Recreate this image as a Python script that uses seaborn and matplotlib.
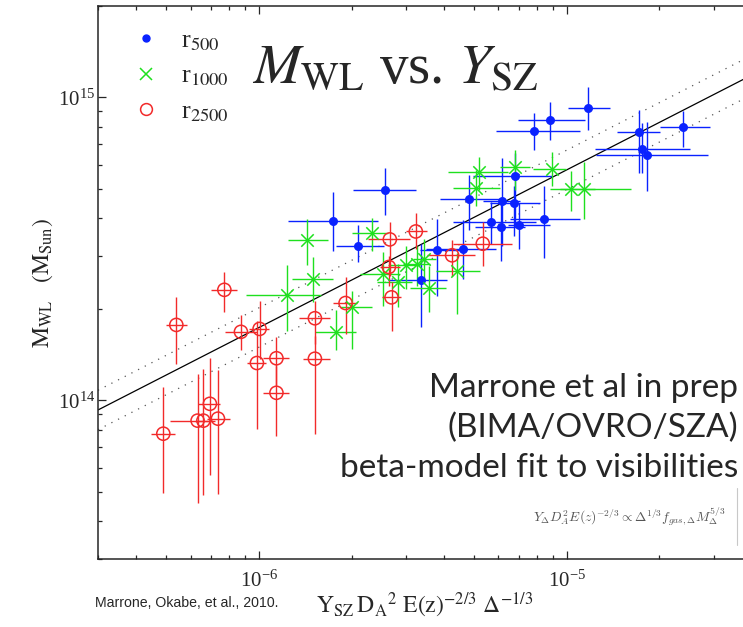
import numpy as np
import pandas
import seaborn as sns
import matplotlib.pyplot as plt
import matplotlib.ticker as ticker
from matplotlib.lines import Line2D

# Y_SZ D_A^2 E(z)^-2/3 Delta^-1/3 in units of 1e-6, M_WL in units of 1e14 M_sun
# error bars are given in dex (lower, upper)

# r500 (blue dots)
ysz_500 = [1.735, 2.104, 2.571, 3.350, 3.793, 4.606, 4.817, 5.694, 6.106, 6.165, 6.745,
           6.805, 6.985, 7.831, 8.439, 8.841, 11.75, 17.22, 17.59, 18.23, 23.88]
mwl_500 = [3.921, 3.223, 4.944, 2.499, 3.127, 3.151, 4.619, 3.883, 3.734, 4.560, 4.468,
           5.495, 3.796, 7.719, 3.981, 8.405, 9.183, 7.696, 6.753, 6.441, 7.956]
ysz_500_elo = [0.144, 0.073, 0.104, 0.106, 0.056, 0.119, 0.095, 0.125, 0.084, 0.062, 0.079,
               0.138, 0.035, 0.122, 0.111, 0.105, 0.066, 0.073, 0.154, 0.167, 0.076]
ysz_500_ehi = [0.148, 0.083, 0.099, 0.085, 0.084, 0.108, 0.100, 0.146, 0.078, 0.057, 0.083,
               0.119, 0.100, 0.148, 0.116, 0.112, 0.070, 0.068, 0.156, 0.198, 0.088]
mwl_500_elo = [0.101, 0.053, 0.081, 0.155, 0.150, 0.098, 0.101, 0.074, 0.113, 0.148, 0.108,
               0.165, 0.081, 0.061, 0.129, 0.066, 0.071, 0.136, 0.080, 0.119, 0.064]
mwl_500_ehi = [0.093, 0.072, 0.072, 0.117, 0.102, 0.098, 0.080, 0.067, 0.080, 0.141, 0.056,
               0.075, 0.072, 0.059, 0.106, 0.060, 0.071, 0.073, 0.084, 0.110, 0.054]

# r1000 (green crosses)
ysz_1000 = [1.230, 1.429, 1.497, 1.778, 2.009, 2.322, 2.533, 2.834, 3.001, 3.266, 3.441,
            3.564, 4.411, 5.091, 5.179, 6.805, 8.960, 10.36, 11.36]
mwl_1000 = [2.226, 3.373, 2.512, 1.677, 2.029, 3.555, 2.609, 2.461, 2.792, 2.828, 2.937,
            2.352, 2.675, 5.020, 5.689, 5.872, 5.794, 4.974, 4.982]
ysz_1000_elo = [0.131, 0.061, 0.067, 0.068, 0.040, 0.065, 0.076, 0.070, 0.057, 0.045, 0.036,
                0.062, 0.068, 0.076, 0.100, 0.050, 0.062, 0.070, 0.078]
ysz_1000_ehi = [0.113, 0.070, 0.066, 0.067, 0.063, 0.053, 0.054, 0.044, 0.045, 0.041, 0.040,
                0.057, 0.073, 0.076, 0.095, 0.047, 0.047, 0.076, 0.155]
mwl_1000_elo = [0.120, 0.082, 0.075, 0.057, 0.137, 0.057, 0.104, 0.083, 0.079, 0.073, 0.068,
                0.081, 0.142, 0.060, 0.060, 0.074, 0.057, 0.073, 0.100]
mwl_1000_ehi = [0.100, 0.070, 0.072, 0.074, 0.054, 0.052, 0.072, 0.058, 0.063, 0.058, 0.063,
                0.072, 0.060, 0.060, 0.049, 0.057, 0.058, 0.061, 0.090]

# r2500 (red open circles)
ysz_2500 = [0.489, 0.539, 0.632, 0.660, 0.693, 0.736, 0.772, 0.874, 1.005, 0.985, 1.140,
            1.140, 1.520, 1.520, 1.912, 2.644, 2.663, 2.697, 3.234, 4.243, 5.338]
mwl_2500 = [0.777, 1.775, 0.858, 0.858, 0.975, 0.871, 2.317, 1.684, 1.722, 1.329, 1.378,
            1.060, 1.867, 1.373, 2.096, 2.756, 3.398, 2.188, 3.609, 3.011, 3.289]
ysz_2500_elo = [0.041, 0.034, 0.090, 0.027, 0.039, 0.037, 0.043, 0.052, 0.035, 0.033, 0.044,
                0.044, 0.052, 0.039, 0.041, 0.029, 0.071, 0.032, 0.032, 0.083, 0.096]
ysz_2500_ehi = [0.038, 0.034, 0.033, 0.038, 0.032, 0.039, 0.041, 0.051, 0.031, 0.031, 0.040,
                0.040, 0.049, 0.049, 0.036, 0.036, 0.065, 0.032, 0.035, 0.074, 0.096]
mwl_2500_elo = [0.196, 0.128, 0.271, 0.244, 0.236, 0.248, 0.073, 0.061, 0.098, 0.219, 0.089,
                0.142, 0.084, 0.248, 0.102, 0.062, 0.121, 0.110, 0.059, 0.068, 0.073]
mwl_2500_ehi = [0.154, 0.093, 0.155, 0.171, 0.151, 0.162, 0.058, 0.056, 0.091, 0.140, 0.070,
                0.090, 0.058, 0.076, 0.085, 0.036, 0.056, 0.050, 0.062, 0.052, 0.070]

# power-law fit: M = fit_norm * (Y / 1e-6)^fit_slope, with +-fit_scatter dex
fit_norm = 1.74
fit_slope = 0.52
fit_scatter = 0.065

sns.set_style('ticks')
plt.rcParams['font.family'] = 'serif'
plt.rcParams['font.serif'] = ['Liberation Serif', 'DejaVu Serif']
plt.rcParams['mathtext.fontset'] = 'stix'

fig = plt.figure(figsize=(7.43, 6.27), dpi=100)
ax = fig.add_axes([98 / 743, 1 - 559 / 627, 654 / 743, 553 / 627])
ax.set_xscale('log')
ax.set_yscale('log')
ax.set_xlim(3e-7, 4e-5)
ax.set_ylim(3e13, 2e15)

# fit line and scatter
fit_x = np.geomspace(3e-7, 4e-5, 50)
fit_y = fit_norm * 1e14 * (fit_x / 1e-6) ** fit_slope
ax.plot(fit_x, fit_y, color='black', lw=0.9, zorder=1)
ax.plot(fit_x, fit_y * 10 ** fit_scatter, color='#555555', lw=0.9, ls=(0, (1, 5)), zorder=1)
ax.plot(fit_x, fit_y * 10 ** -fit_scatter, color='#555555', lw=0.9, ls=(0, (1, 5)), zorder=1)

series = [
    ('r500', ysz_500, mwl_500, ysz_500_elo, ysz_500_ehi, mwl_500_elo, mwl_500_ehi, '#0a22ff'),
    ('r1000', ysz_1000, mwl_1000, ysz_1000_elo, ysz_1000_ehi, mwl_1000_elo, mwl_1000_ehi, '#1ee01e'),
    ('r2500', ysz_2500, mwl_2500, ysz_2500_elo, ysz_2500_ehi, mwl_2500_elo, mwl_2500_ehi, '#f22a2a'),
]

for name, ysz, mwl, xlo, xhi, mlo, mhi, col in series:
    df = pandas.DataFrame({'Y': np.array(ysz) * 1e-6, 'M': np.array(mwl) * 1e14})
    xerr = [df.Y * (1 - 10 ** -np.array(xlo)), df.Y * (10 ** np.array(xhi) - 1)]
    yerr = [df.M * (1 - 10 ** -np.array(mlo)), df.M * (10 ** np.array(mhi) - 1)]
    ax.errorbar(df.Y, df.M, xerr=xerr, yerr=yerr, fmt='none', ecolor=col,
                elinewidth=1.0, capsize=0, zorder=2)
    if name == 'r500':
        sns.scatterplot(data=df, x='Y', y='M', ax=ax, marker='o', s=42, color=col,
                        edgecolor=col, linewidth=0, zorder=3)
    elif name == 'r1000':
        sns.scatterplot(data=df, x='Y', y='M', ax=ax, marker='x', s=80, color=col,
                        linewidth=1.1, zorder=3)
    else:
        sns.scatterplot(data=df, x='Y', y='M', ax=ax, marker='o', s=90, facecolors='none',
                        edgecolor=col, linewidth=1.1, zorder=3)

handles = [
    Line2D([], [], ls='none', marker='o', ms=5, color='#0a22ff', mec='#0a22ff'),
    Line2D([], [], ls='none', marker='x', ms=8, mew=1.1, color='#1ee01e'),
    Line2D([], [], ls='none', marker='o', ms=8.5, mfc='none', mew=1.1, mec='#f22a2a'),
]
ax.legend(handles, [r'r$_{500}$', r'r$_{1000}$', r'r$_{2500}$'], loc='upper left',
          bbox_to_anchor=(0.054, 0.958), frameon=False, fontsize=19, borderpad=0,
          borderaxespad=0, handlelength=0.95, handletextpad=0.85, labelspacing=0.42)

ax.set_xlabel(r'$\mathrm{Y_{SZ}\,D_A{}^{2}\ E(z)^{-2/3}\ \Delta^{-1/3}}$', fontsize=17, labelpad=0)
ax.set_ylabel(r'$\mathrm{M_{WL}\ \ \ (M_{Sun})}$', fontsize=17, labelpad=2)

ax.tick_params(which='both', direction='in', top=True, right=True, labelsize=15, width=0.9)
ax.tick_params(which='major', length=6)
ax.tick_params(which='minor', length=3)
ax.tick_params(axis='x', pad=8)
ax.tick_params(axis='y', pad=2)
ax.xaxis.set_minor_formatter(ticker.NullFormatter())
ax.yaxis.set_minor_formatter(ticker.NullFormatter())
for sp in ax.spines.values():
    sp.set_linewidth(1.1)

fig.text(252 / 743, 1 - 83 / 627, r'$M_{\rm WL}$ vs. $Y_{\rm SZ}$', fontsize=41, va='baseline')

fig.text(738 / 743, 1 - 397 / 627, 'Marrone et al in prep', ha='right', va='baseline',
         family='Lato', fontsize=24)
fig.text(738 / 743, 1 - 437 / 627, '(BIMA/OVRO/SZA)', ha='right', va='baseline',
         family='Lato', fontsize=24)
fig.text(738 / 743, 1 - 477 / 627, 'beta-model fit to visibilities', ha='right', va='baseline',
         family='Lato', fontsize=24)
fig.text(726 / 743, 1 - 522 / 627,
         r'$Y_\Delta D_A^2 E(z)^{-2/3} \propto \Delta^{1/3} f_{gas,\Delta} M_\Delta^{5/3}$',
         ha='right', va='baseline', fontsize=9.8, color='#555555', math_fontfamily='cm')
fig.add_artist(Line2D([737 / 743, 737 / 743], [1 - 488 / 627, 1 - 545 / 627],
                      color='#c8c8c8', lw=0.8))
fig.text(95 / 743, 1 - 607 / 627, 'Marrone, Okabe, et al., 2010.', va='baseline',
         family='Liberation Sans', fontsize=10.2)

fig.savefig('out.png', dpi=100)
